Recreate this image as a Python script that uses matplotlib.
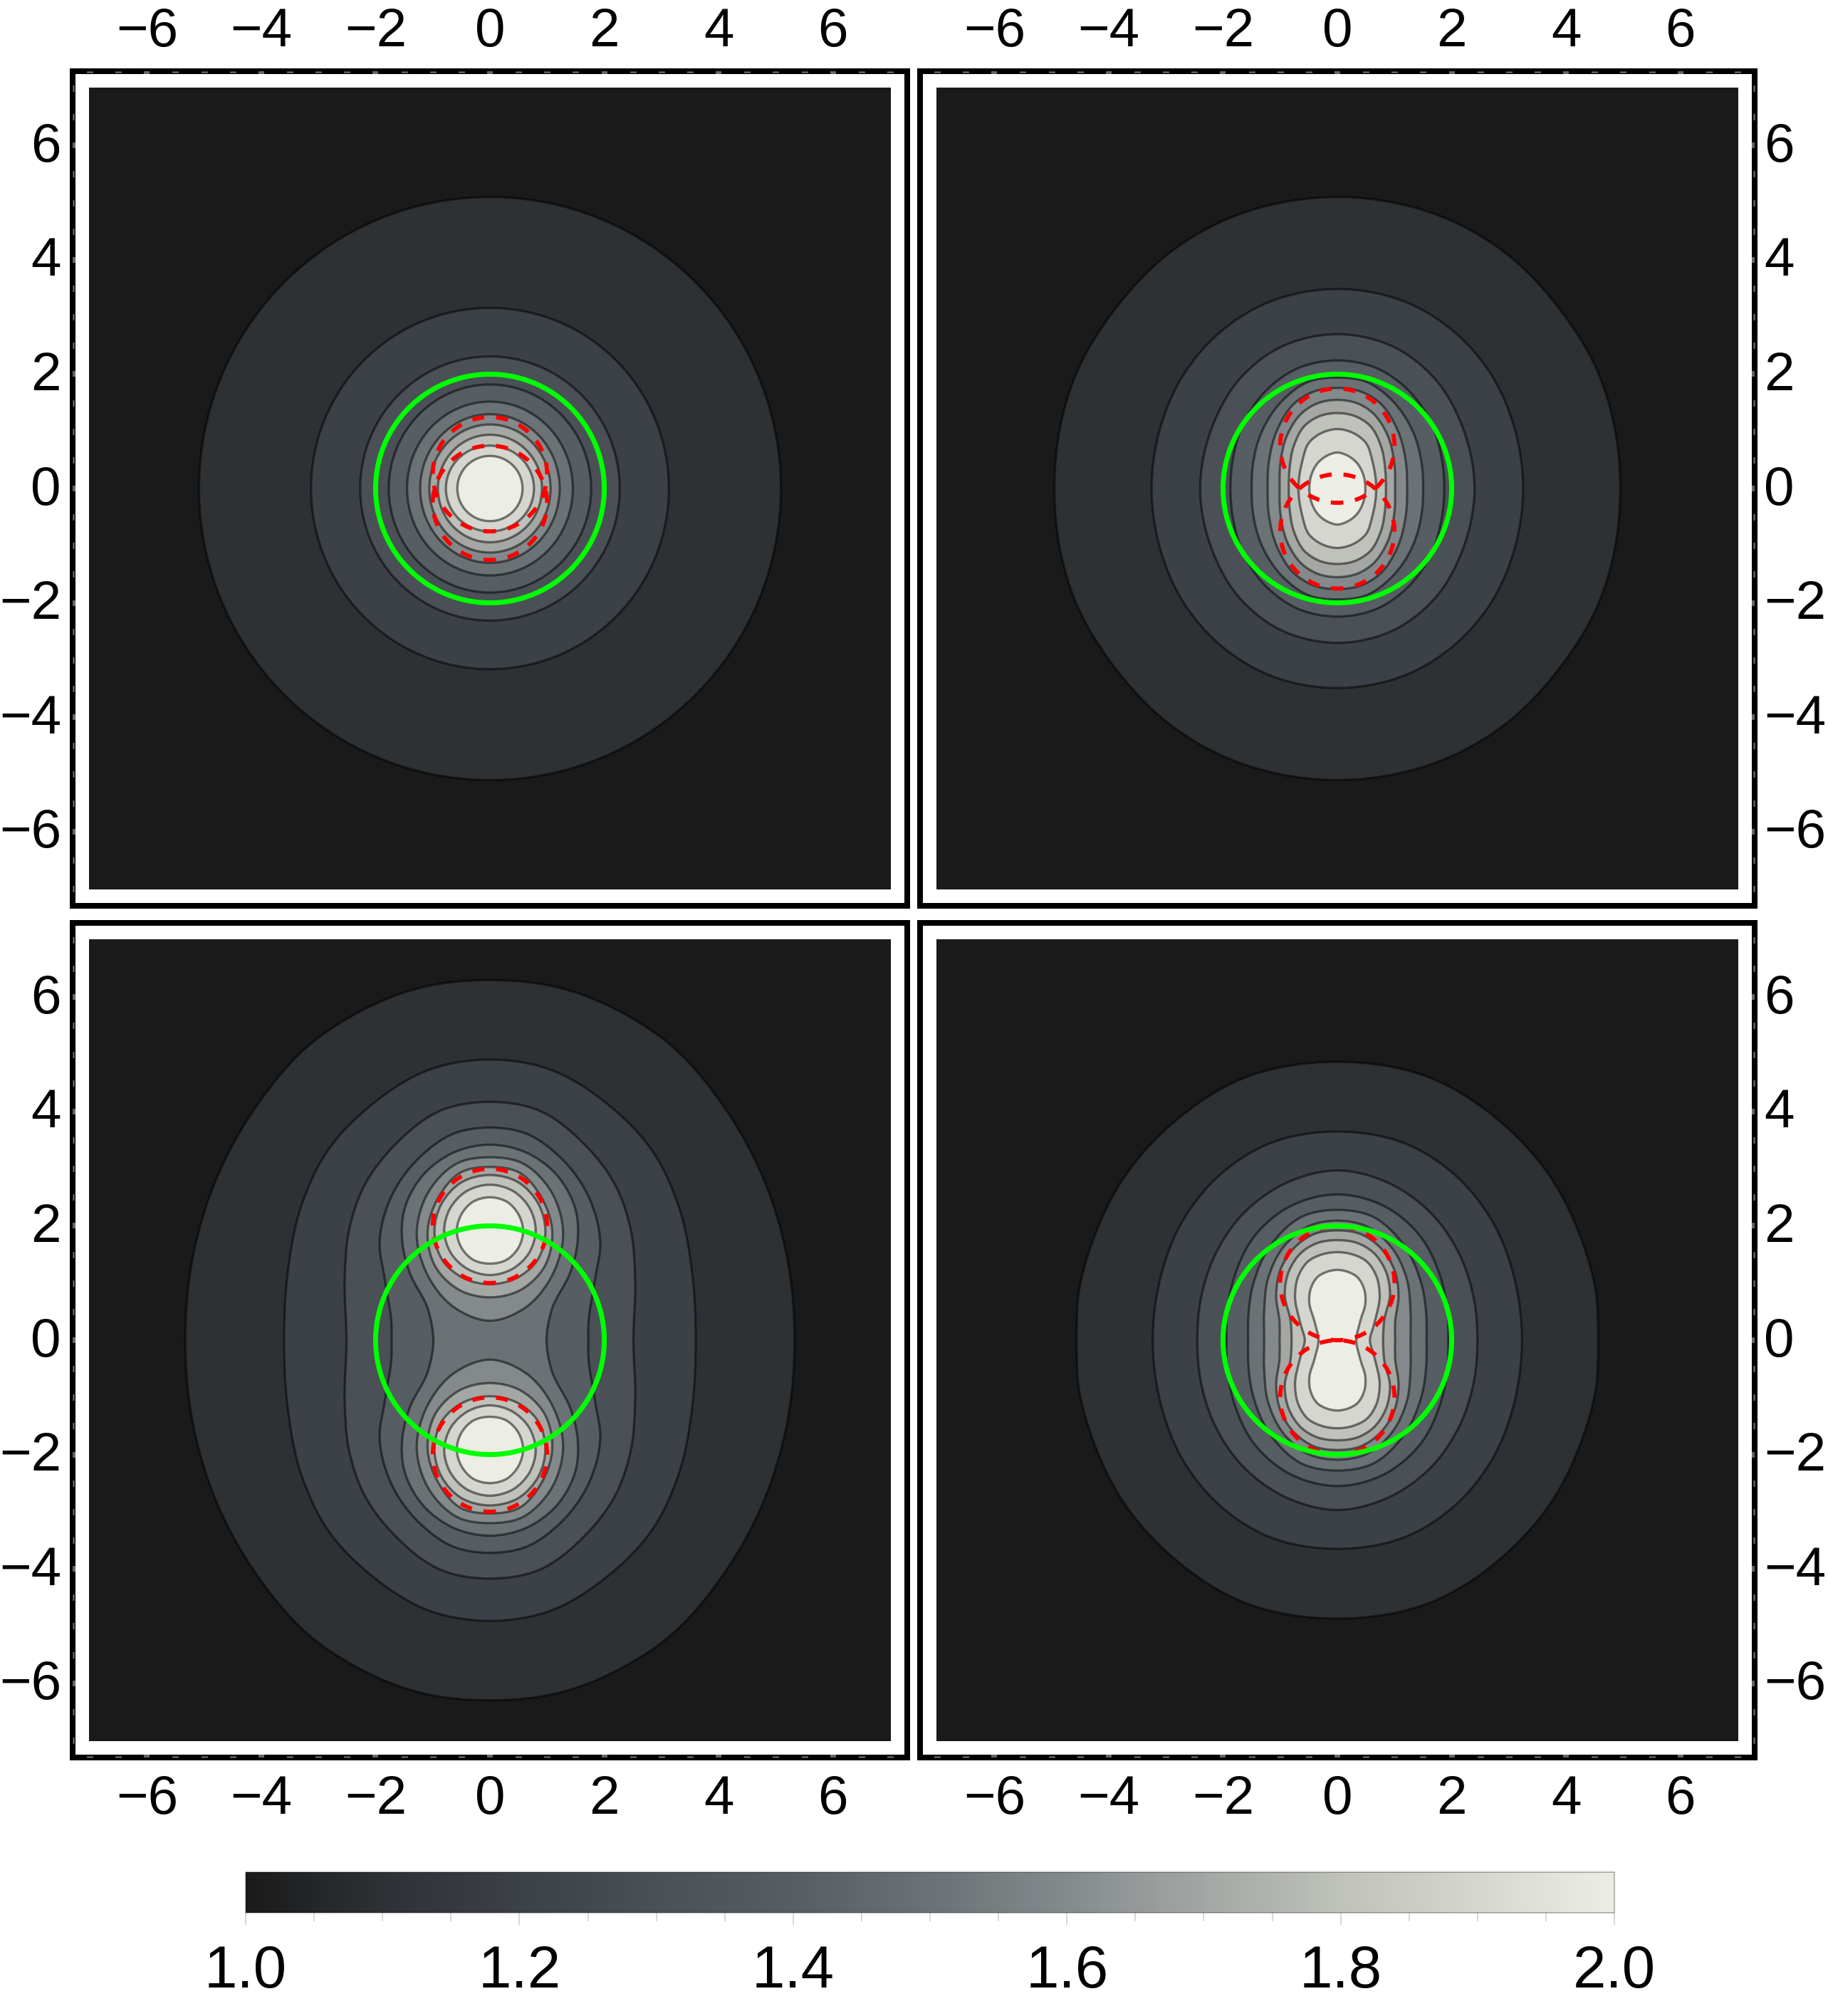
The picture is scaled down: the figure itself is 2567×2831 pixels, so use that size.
#!/usr/bin/python3
import math

import matplotlib
matplotlib.use('Agg')
import matplotlib.pyplot as plt
from matplotlib.cm import ScalarMappable
from matplotlib.colors import LinearSegmentedColormap, Normalize
from matplotlib.patches import Circle, Ellipse, PathPatch, Rectangle
from matplotlib.path import Path
from matplotlib.transforms import ScaledTranslation

plt.rcParams['font.family'] = ['Liberation Sans', 'DejaVu Sans']
plt.rcParams['ytick.alignment'] = 'center'

W, H = 2567, 2831

# colour scale
bar_values = [0.0, 0.1, 0.2, 0.3, 0.4, 0.5, 0.6, 0.7, 0.8, 0.9, 1.0]
bar_colours = ['#1a1a1a', '#2e3135', '#3c4047', '#4a5056', '#565d63', '#6b7275',
               '#848a8c', '#a3a6a3', '#bfc1bb', '#d5d6cf', '#ecede4']
band_values = [1.0, 1.1, 1.2, 1.3, 1.4, 1.5, 1.6, 1.7, 1.8, 1.9, 2.0]

axis_ticks = [-6, -4, -2, 0, 2, 4, 6]
axis_labels = ['\u22126', '\u22124', '\u22122', '0', '2', '4', '6']
axis_minor = [-7, -6.5, -5.5, -5, -4.5, -3.5, -3, -2.5, -1.5, -1, -0.5, 0.5, 1, 1.5, 2.5, 3, 3.5, 4.5, 5, 5.5, 6.5, 7]
bar_ticks = [1.0, 1.2, 1.4, 1.6, 1.8, 2.0]
bar_labels = ['1.0', '1.2', '1.4', '1.6', '1.8', '2.0']
bar_minor = [1.05, 1.1, 1.15, 1.25, 1.3, 1.35, 1.45, 1.5, 1.55, 1.65, 1.7, 1.75, 1.85, 1.9, 1.95]

# centres of the two red unit circles, one per panel
red_offset = [0.25, 0.75, 2.0, 1.0]
red_radius = 1.0
green_radius = 2.0

# panel 1: contours are near-circles, (half width, half height)
rings_a = [(5.09, 5.10), (3.13, 3.16), (2.27, 2.31), (1.77, 1.82), (1.45, 1.52),
           (1.22, 1.30), (1.06, 1.12), (0.91, 0.94), (0.77, 0.75), (0.57, 0.57)]

# the rest: first quadrant, from the top of the curve to the x axis
lines_b = [
    [(0, 5.10), (2.07, 4.65), (2.90, 4.15), (3.94, 3.07), (4.56, 2.03), (4.85, 1.07), (4.95, 0)],
    [(0, 3.49), (1.25, 3.24), (2.07, 2.72), (2.70, 1.98), (3.11, 1.02), (3.25, 0)],
    [(0, 2.70), (1.04, 2.45), (1.74, 1.88), (2.20, 1.05), (2.40, 0)],
    [(0, 2.24), (0.70, 2.10), (1.24, 1.72), (1.66, 1.10), (1.83, 0.50), (1.87, 0)],
    [(0, 1.94), (0.50, 1.87), (0.95, 1.55), (1.32, 1.00), (1.48, 0.40), (1.50, 0)],
    [(0, 1.76), (0.40, 1.70), (0.74, 1.50), (1.05, 1.03), (1.20, 0.45), (1.22, 0)],
    [(0, 1.55), (0.35, 1.49), (0.61, 1.33), (0.87, 0.95), (1.00, 0.40), (1.01, 0)],
    [(0, 1.32), (0.30, 1.27), (0.57, 1.10), (0.76, 0.75), (0.84, 0.30), (0.85, 0)],
    [(0, 1.04), (0.28, 0.97), (0.49, 0.81), (0.62, 0.45), (0.68, 0)],
    [(0, 0.63), (0.17, 0.58), (0.34, 0.45), (0.46, 0.22), (0.49, 0)],
]

lines_c = [
    [(0, 6.30), (1.24, 6.16), (2.49, 5.63), (3.03, 5.27), (4.15, 4.00), (4.77, 2.86), (5.19, 1.49), (5.33, 0)],
    [(0, 4.91), (1.04, 4.74), (2.07, 4.12), (2.85, 3.30), (3.30, 2.35), (3.55, 1.07), (3.60, 0)],
    [(0, 4.17), (0.83, 4.03), (1.66, 3.42), (2.20, 2.70), (2.47, 1.90), (2.54, 1.07), (2.51, 0)],
    [(0, 3.72), (0.62, 3.62), (1.24, 3.19), (1.74, 2.48), (1.93, 1.69), (1.84, 1.07), (1.72, 0.24), (1.72, 0)],
    [(0, 3.42), (0.62, 3.29), (1.16, 2.90), (1.51, 2.23), (1.53, 1.69), (1.41, 1.20), (1.08, 0.53), (0.99, 0)],
]
# panel 3, upper lobe only: right half, top to bottom
lobes_c = [
    [(0, 3.20), (0.54, 3.11), (1.04, 2.65), (1.28, 1.86), (1.12, 1.20), (0.62, 0.57), (0, 0.34)],
    [(0, 3.03), (0.50, 2.94), (0.91, 2.48), (1.09, 1.90), (0.95, 1.28), (0.50, 0.86), (0, 0.75)],
    [(0, 2.89), (0.50, 2.76), (0.85, 2.38), (0.97, 1.92), (0.83, 1.40), (0.45, 1.08), (0, 0.98)],
    [(0, 2.72), (0.42, 2.60), (0.70, 2.30), (0.80, 1.92), (0.68, 1.52), (0.38, 1.24), (0, 1.14)],
    [(0, 2.50), (0.30, 2.42), (0.50, 2.20), (0.58, 1.92), (0.50, 1.62), (0.28, 1.40), (0, 1.34)],
]

lines_d = [
    [(0, 4.87), (1.65, 4.58), (2.90, 3.78), (3.73, 2.85), (4.31, 1.65), (4.52, 0.86), (4.56, 0)],
    [(0, 3.65), (1.24, 3.42), (2.07, 2.88), (2.70, 2.10), (3.11, 1.03), (3.23, 0)],
    [(0, 2.97), (0.83, 2.78), (1.66, 2.20), (2.16, 1.45), (2.40, 0.66), (2.45, 0)],
    [(0, 2.55), (0.83, 2.34), (1.45, 1.82), (1.82, 1.05), (1.94, 0.30), (1.94, 0)],
    [(0, 2.28), (0.60, 2.17), (1.15, 1.68), (1.48, 0.95), (1.56, 0.35), (1.56, 0)],
    [(0, 2.09), (0.49, 2.00), (0.95, 1.62), (1.22, 1.05), (1.28, 0.50), (1.28, 0)],
    [(0, 1.92), (0.40, 1.86), (0.75, 1.62), (1.00, 1.22), (1.07, 0.80), (1.01, 0.31), (1.01, 0)],
    [(0, 1.75), (0.35, 1.70), (0.61, 1.55), (0.85, 1.20), (0.92, 0.80), (0.82, 0.35), (0.80, 0)],
    [(0, 1.54), (0.27, 1.50), (0.51, 1.38), (0.69, 1.10), (0.74, 0.80), (0.64, 0.27), (0.57, 0)],
    [(0, 1.23), (0.20, 1.19), (0.33, 1.12), (0.48, 0.85), (0.49, 0.65), (0.40, 0.33), (0.33, 0)],
]

# left, top of the axes box in pixels (middle of the black frame)
boxes = [(102, 100), (1292, 100), (102, 1296), (1292, 1296)]
box_size = 1172
lim = 7.3
dark = 7.01
px = 0.72   # points per pixel at dpi=100

line_edge = (0, 0, 0, 0.5)
cmap = LinearSegmentedColormap.from_list('tones', list(zip(bar_values, bar_colours)))
norm = Normalize(1.0, 2.0)


def tangent(p0, p1, p2):
    # direction at p1, weighted by the spacing of its neighbours
    d1 = math.dist(p0, p1)
    d2 = math.dist(p1, p2)
    tx = ((p2[0] - p1[0]) * d1 / d2 + (p1[0] - p0[0]) * d2 / d1) / (d1 + d2)
    ty = ((p2[1] - p1[1]) * d1 / d2 + (p1[1] - p0[1]) * d2 / d1) / (d1 + d2)
    return tx, ty


def closed_smooth(pts):
    # closed bezier through the points
    n = len(pts)
    verts = [pts[0]]
    codes = [Path.MOVETO]
    for i in range(n):
        p0, p1, p2, p3 = pts[i - 1], pts[i], pts[(i + 1) % n], pts[(i + 2) % n]
        d = math.dist(p1, p2) / 3
        t1 = tangent(p0, p1, p2)
        t2 = tangent(p1, p2, p3)
        verts.append((p1[0] + t1[0] * d, p1[1] + t1[1] * d))
        verts.append((p2[0] - t2[0] * d, p2[1] - t2[1] * d))
        verts.append(p2)
        codes += [Path.CURVE4] * 3
    return Path(verts, codes)


def whole_curve(quad):
    right = list(quad) + [(x, -y) for x, y in reversed(quad[:-1])]
    left = [(-x, y) for x, y in reversed(right[1:-1])]
    return right + left


def whole_lobe(half, sign):
    pts = list(half) + [(-x, y) for x, y in reversed(half[1:-1])]
    return [(x, sign * y) for x, y in pts]


def add_band(ax, pts, level):
    ax.add_patch(PathPatch(closed_smooth(pts), facecolor=cmap(norm(band_values[level])),
                           edgecolor=line_edge, lw=3.3 * px))


def style_axes(ax, idx):
    ax.set_xlim(-lim, lim)
    ax.set_ylim(-lim, lim)
    ax.set_axisbelow(False)
    for s in ax.spines.values():
        s.set_linewidth(8 * px)
        s.set_color('black')
    ax.set_xticks(axis_ticks, axis_labels)
    ax.set_yticks(axis_ticks, axis_labels)
    ax.set_xticks(axis_minor, minor=True)
    ax.set_yticks(axis_minor, minor=True)
    is_top, is_left = idx < 2, idx % 2 == 0
    common = dict(top=is_top, bottom=not is_top, left=is_left, right=not is_left, direction='in')
    ax.tick_params(which='major', length=4 * px, width=8 * px, color='#666666', **common)
    ax.tick_params(which='minor', length=2 * px, width=9 * px, color='#777777', **common)
    ax.tick_params(axis='x', which='major', labelsize=55,
                   pad=(19 if is_top else 24) * px, labeltop=is_top, labelbottom=not is_top)
    ax.tick_params(axis='y', which='major', labelsize=55,
                   pad=(16 if is_left else 13) * px, labelleft=is_left, labelright=not is_left)
    # y labels sit a little lower than plain centring
    shift = ScaledTranslation(0, -3 / 100, ax.figure.dpi_scale_trans)
    for tick in ax.yaxis.get_major_ticks():
        tick.label1.set_transform(tick.label1.get_transform() + shift)
        tick.label2.set_transform(tick.label2.get_transform() + shift)


fig = plt.figure(figsize=(W / 100, H / 100), dpi=100, facecolor='white')

for idx, (left, top) in enumerate(boxes):
    ax = fig.add_axes([left / W, 1 - (top + box_size) / H, box_size / W, box_size / H])
    style_axes(ax, idx)
    ax.add_patch(Rectangle((-dark, -dark), 2 * dark, 2 * dark, facecolor=cmap(0.0), edgecolor='none'))

    if idx == 0:
        for k, (a, b) in enumerate(rings_a):
            ax.add_patch(Ellipse((0, 0), 2 * a, 2 * b, facecolor=cmap(norm(band_values[k + 1])),
                                 edgecolor=line_edge, lw=3.3 * px))
    elif idx == 1:
        for k, quad in enumerate(lines_b):
            add_band(ax, whole_curve(quad), k + 1)
    elif idx == 2:
        for k, quad in enumerate(lines_c):
            add_band(ax, whole_curve(quad), k + 1)
        for k, half in enumerate(lobes_c):
            add_band(ax, whole_lobe(half, 1), k + 6)
            add_band(ax, whole_lobe(half, -1), k + 6)
    else:
        for k, quad in enumerate(lines_d):
            add_band(ax, whole_curve(quad), k + 1)

    for sign in (1, -1):
        ax.add_patch(Circle((0, sign * red_offset[idx]), red_radius, fill=False, edgecolor='#ff0000',
                            lw=5.8 * px, linestyle=(1.47, (2.93, 2.86)), zorder=2))
    ax.add_patch(Circle((0, 0), green_radius, fill=False, edgecolor='#00ff00', lw=7 * px, zorder=2.1))

# colour bar
cax = fig.add_axes([345 / W, 1 - 2686 / H, 1922 / W, 57 / H])
cb = fig.colorbar(ScalarMappable(norm=norm, cmap=cmap), cax=cax, orientation='horizontal')
cb.set_ticks(bar_ticks, labels=bar_labels)
cb.set_ticks(bar_minor, minor=True)
cb.outline.set_edgecolor((0, 0, 0, 0.35))
cb.outline.set_linewidth(1.5 * px)
cax.tick_params(which='major', length=17 * px, width=1.5 * px, color='#cccccc', labelsize=60, pad=27 * px)
cax.tick_params(which='minor', length=12 * px, width=1.5 * px, color='#cccccc')

fig.savefig('out.png', dpi=100)
